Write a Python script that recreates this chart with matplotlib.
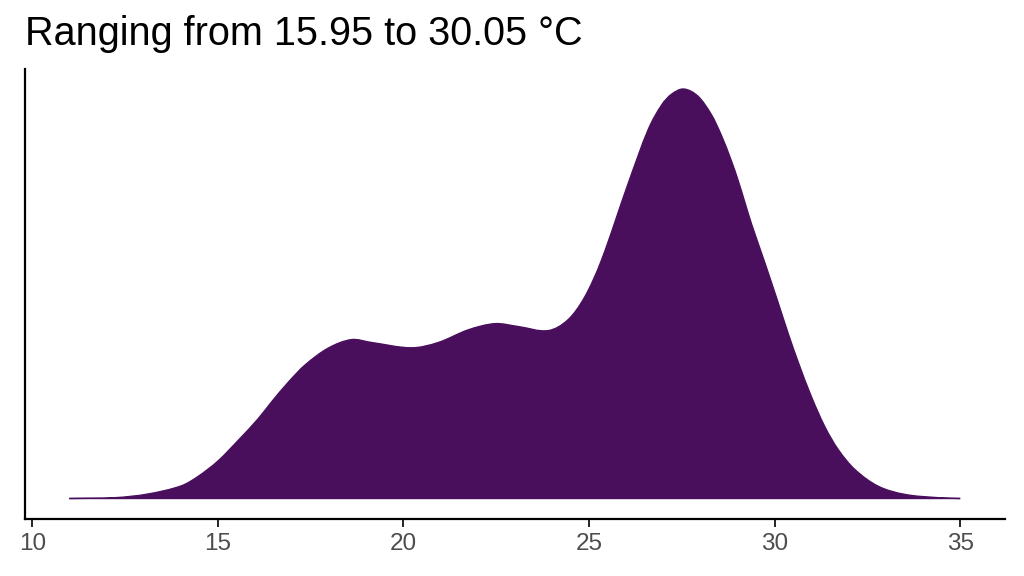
import matplotlib
matplotlib.use("Agg")
import matplotlib.pyplot as plt
from matplotlib.path import Path
from matplotlib.patches import PathPatch

plt.rcParams['font.family'] = ['Liberation Sans', 'DejaVu Sans']

# density curve (temperature in °C, relative density)
temp = [11.0, 12.23, 13.12, 14.02, 14.47, 15.01, 15.55, 16.09, 16.45, 16.90,
        17.35, 17.97, 18.60, 19.14, 20.22, 20.94, 21.75, 22.47, 23.09, 23.90,
        24.44, 24.89, 25.34, 26.05, 26.59, 26.95, 27.22, 27.55, 27.94, 28.30,
        28.57, 28.83, 29.02, 29.20, 29.38, 29.74, 30.10, 30.37, 30.64, 30.99,
        31.35, 31.71, 32.16, 32.79, 33.51, 34.41, 35.0]
density = [0.000, 0.002, 0.011, 0.031, 0.054, 0.092, 0.142, 0.195, 0.236, 0.284,
           0.326, 0.367, 0.388, 0.381, 0.368, 0.381, 0.412, 0.427, 0.420, 0.410,
           0.437, 0.493, 0.583, 0.768, 0.900, 0.960, 0.987, 1.000, 0.982, 0.937,
           0.886, 0.826, 0.776, 0.723, 0.670, 0.575, 0.477, 0.402, 0.332, 0.249,
           0.176, 0.120, 0.071, 0.030, 0.010, 0.002, 0.000]
xticks = [10, 15, 20, 25, 30, 35]
title = "Ranging from 15.95 to 30.05 °C"

fill = "#490F5D"


def smooth_path(xs, ys):
    # cubic Hermite through the read points, drawn as Bezier segments
    n = len(xs)
    slopes = []
    for i in range(n):
        a = max(i - 1, 0)
        b = min(i + 1, n - 1)
        slopes.append((ys[b] - ys[a]) / (xs[b] - xs[a]))
    verts = [(xs[0], ys[0])]
    codes = [Path.MOVETO]
    for i in range(n - 1):
        h = xs[i + 1] - xs[i]
        verts += [(xs[i] + h / 3, ys[i] + slopes[i] * h / 3),
                  (xs[i + 1] - h / 3, ys[i + 1] - slopes[i + 1] * h / 3),
                  (xs[i + 1], ys[i + 1])]
        codes += [Path.CURVE4] * 3
    return verts, codes


fig = plt.figure(figsize=(10.24, 5.76), dpi=100)
ax = fig.add_axes([0.0242, 0.099, 0.957, 0.782])

verts, codes = smooth_path(temp, density)
area_verts = verts + [(temp[-1], 0), (temp[0], 0), verts[0]]
area_codes = codes + [Path.LINETO, Path.LINETO, Path.CLOSEPOLY]
ax.add_patch(PathPatch(Path(area_verts, area_codes), facecolor=fill,
                       edgecolor=fill, linewidth=1.0))

ax.set_xlim(9.8, 36.2)
ax.set_ylim(-0.05, 1.05)
ax.set_xticks(xticks)
ax.set_yticks([])

for side in ['top', 'right']:
    ax.spines[side].set_visible(False)
for side in ['left', 'bottom']:
    ax.spines[side].set_linewidth(1.6)
    ax.spines[side].set_color('black')
ax.tick_params(axis='x', length=6, width=1.2, color='black',
               labelsize=17.5, labelcolor='#4D4D4D', pad=4)

fig.text(0.0242, 0.922, title, fontsize=28.5, color='black', ha='left', va='baseline')

fig.savefig("out.png", dpi=100, facecolor='white')
